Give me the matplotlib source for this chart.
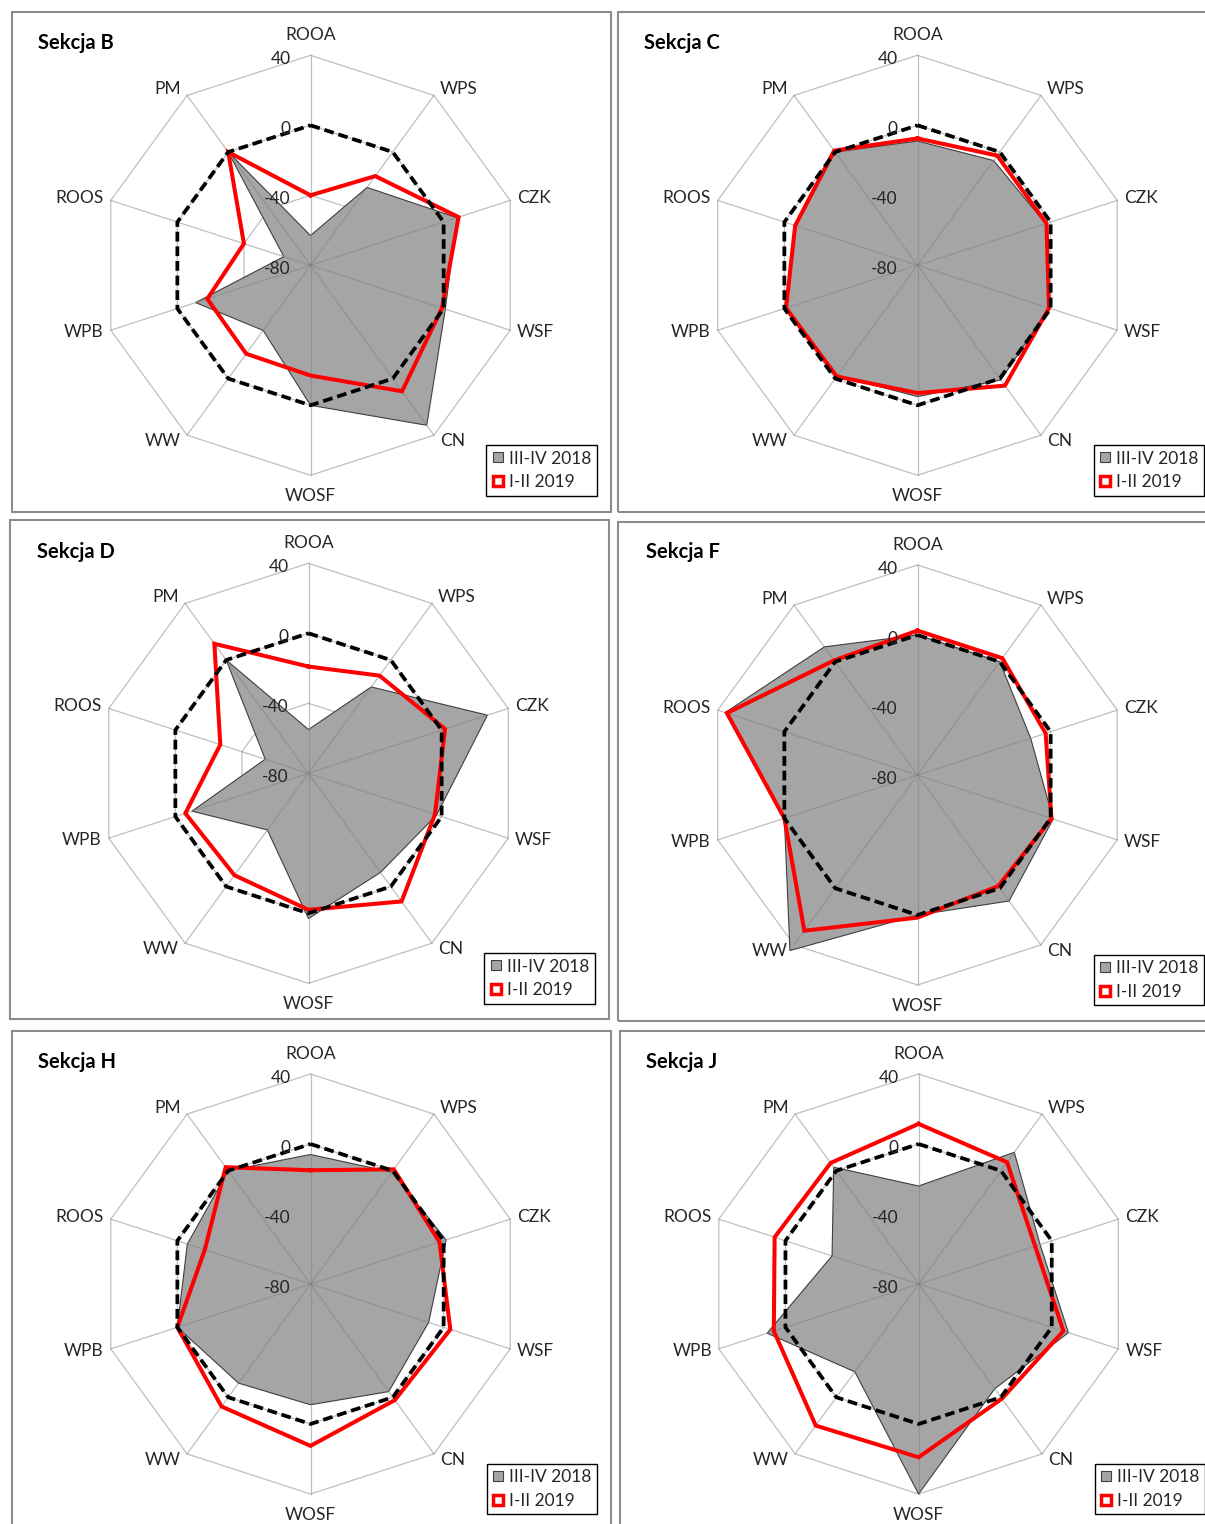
import matplotlib
matplotlib.use('Agg')
import matplotlib.pyplot as plt
import numpy as np
from matplotlib.lines import Line2D
from matplotlib.patches import Rectangle
import matplotlib.transforms as mtransforms

plt.rcParams['font.family'] = ['Lato', 'DejaVu Sans']

# ---------------- data ----------------
categories = ['ROOA', 'WPS', 'CZK', 'WSF', 'CN', 'WOSF', 'WW', 'WPB', 'ROOS', 'PM']
series_labels = ['III-IV 2018', 'I-II 2019']
section_titles = ['Sekcja B', 'Sekcja C', 'Sekcja D', 'Sekcja F', 'Sekcja H', 'Sekcja J']

b_2018 = [-63, -25, 8, 1, 33, 0, -34, -11, -64, 0]
b_2019 = [-40, -17, 9, -1, 9, -17, -17.5, -18, -40, 0]
c_2018 = [-9, -6, -3, -1, 1, -5, -2, -1, -7, 0]
c_2019 = [-7.5, -2.5, -2.5, -1, 5, -7, -1.5, -1, -6.5, 1]
d_2018 = [-55, -19, 27.5, -3, -10, 3, -40, -10, -54, 0]
d_2019 = [-19, -11, 2, -4, 10.5, -2, -8, -6, -27, 11.5]
f_2018 = [0, 0, -12, 1.5, 9, 0, 44, 0, 35.5, 10.5]
f_2019 = [2.5, 2.5, -3, 0.5, -1.5, 1.5, 30, 0, 34.5, 1]
h_2018 = [-6, -1, 1.5, -9, -4, -11, -10, 0, -6, 0]
h_2019 = [-15, 1, -2.5, 4, 2, 12.5, 6.5, 0, -16.5, 2.5]
j_2018 = [-24, 13, -7, 10, -6, 40, -18, 11, -28, 2.5]
j_2019 = [11.5, 6, -10, 7, 1, 19, 20, 7, 6.5, 5.5]
baseline = [0, 0, 0, 0, 0, 0, 0, 0, 0, 0]

tick_values = [40, 0, -40, -80]
tick_labels = ['40', '0', '-40', '-80']
r_min, r_max = -80, 40

series_2018 = [b_2018, c_2018, d_2018, f_2018, h_2018, j_2018]
series_2019 = [b_2019, c_2019, d_2019, f_2019, h_2019, j_2019]

# ---------------- layout ----------------
W, H = 1205, 1524
fig = plt.figure(figsize=(W / 100, H / 100), dpi=100)
fig.patch.set_facecolor('white')

R = 210  # px radius for the r_min..r_max range
centers = [(310.5, 265.3), (917.5, 265.3), (308.5, 773.3),
           (917.5, 775.0), (310.5, 1284.0), (918.6, 1284.0)]
frames = [(12, 12, 611, 512), (618, 12, 1222, 512), (10, 520, 609, 1019),
          (618, 522, 1222, 1021), (12, 1031, 611, 1530), (620, 1031, 1222, 1530)]
title_pos = [(38, 43), (644, 43), (37, 552), (646, 552), (38, 1062), (646, 1062)]

label_color = '#262626'
grid_color = '#bfbfbf'

n = len(categories)
theta = np.deg2rad(np.arange(n) * 360.0 / n)
theta_c = np.append(theta, theta[0])

def close(v):
    v = list(v)
    return np.array(v + v[:1], dtype=float)

label_offsets = [(0, 20, 'center'), (6, 6, 'left'), (7, 2, 'left'), (7, -2, 'left'),
                 (6, -6, 'left'), (0, -21, 'center'), (-6, -6, 'right'), (-7, -2, 'right'),
                 (-7, 2, 'right'), (-6, 6, 'right')]

for i in range(6):
    cx, cy = centers[i]
    x0, y0, x1, y1 = frames[i]
    fig.add_artist(Rectangle((x0 / W, 1 - y1 / H), (x1 - x0) / W, (y1 - y0) / H,
                             transform=fig.transFigure, fill=False,
                             edgecolor='#8c8c8c', lw=1.5))
    tx, ty = title_pos[i]
    fig.text(tx / W, 1 - ty / H, section_titles[i], ha='left', va='center',
             fontsize=14.5, fontweight='bold', color='black')

    ax = fig.add_axes([(cx - R) / W, 1 - (cy + R) / H, 2 * R / W, 2 * R / H],
                      projection='polar')
    ax.set_theta_zero_location('N')
    ax.set_theta_direction(-1)
    ax.set_ylim(r_min, r_max)
    ax.grid(False)
    ax.set_xticks([])
    ax.set_yticks([])
    ax.spines['polar'].set_visible(False)
    ax.patch.set_visible(False)

    # grid polygons (under the fill) and spokes (over the fill, semi-transparent)
    for rv in tick_values[:-1]:
        ax.plot(theta_c, [rv] * (n + 1), color=grid_color, lw=0.9, zorder=1, clip_on=False)
    for t in theta:
        ax.plot([t, t], [r_min, r_max], color=(0.5, 0.5, 0.5, 0.5), lw=0.9,
                zorder=2.5, clip_on=False)

    # series
    ax.fill(theta_c, close(series_2018[i]), facecolor='#a5a5a5',
            edgecolor='#3f3f3f', lw=0.8, zorder=2, clip_on=False)
    ax.plot(theta_c, close(series_2019[i]), color='#ff0000', lw=2.9, zorder=3,
            solid_joinstyle='miter', clip_on=False)
    ax.plot(theta_c, close(baseline), color='black', lw=2.7, dashes=(2.6, 1.3),
            zorder=4, clip_on=False)

    # radial tick labels
    trans = mtransforms.offset_copy(ax.transData, fig=fig, x=-20, y=-4, units='dots')
    for v, lab in zip(tick_values, tick_labels):
        ax.text(0, v, lab, transform=trans, ha='right', va='center',
                fontsize=12.5, color=label_color, zorder=5)

    # category labels
    for k, cat in enumerate(categories):
        dx, dy, ha = label_offsets[k]
        tr = mtransforms.offset_copy(ax.transData, fig=fig, x=dx, y=dy, units='dots')
        ax.text(theta[k], r_max, cat, transform=tr, ha=ha, va='center',
                fontsize=12.5, color=label_color, clip_on=False)

    handles = [Line2D([], [], marker='s', ls='none', markersize=7.5,
                      markerfacecolor='#a5a5a5', markeredgecolor='#404040',
                      markeredgewidth=0.8),
               Line2D([], [], marker='s', ls='none', markersize=7,
                      markerfacecolor='white', markeredgecolor='#ff0000',
                      markeredgewidth=2.5)]
    leg = ax.legend(handles, series_labels, loc='upper left',
                    bbox_to_anchor=((R + 176) / (2 * R), (R - 180) / (2 * R)),
                    bbox_transform=ax.transAxes, frameon=True, fancybox=False,
                    edgecolor='#000000', framealpha=1, fontsize=12.5,
                    handlelength=0.7, handletextpad=0.3, borderpad=0.3,
                    labelspacing=0.45, borderaxespad=0)
    leg.get_frame().set_linewidth(1.0)
    for t in leg.get_texts():
        t.set_color(label_color)

fig.savefig('out.png', dpi=100)
